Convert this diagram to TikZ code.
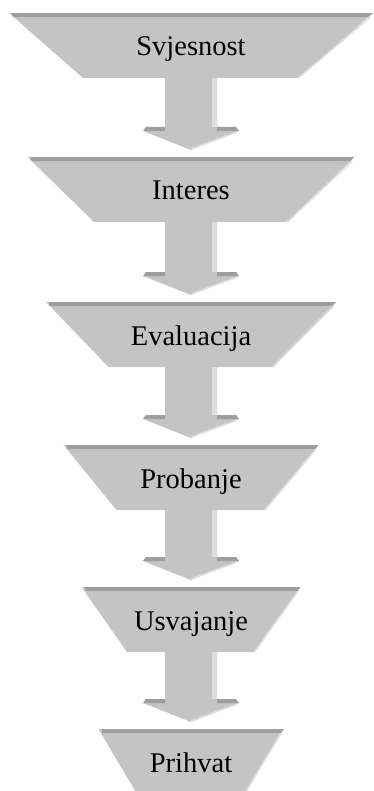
\documentclass[tikz,border=0pt]{standalone}
\usepackage{fontspec}
\setmainfont{Liberation Serif}
\usetikzlibrary{calc}
\definecolor{face}{HTML}{C4C4C4}
\definecolor{rim}{HTML}{9E9E9E}
\definecolor{shine}{HTML}{DEDEDE}
\tikzset{
  stage/.style={font=\fontsize{28.5}{30}\selectfont, anchor=base, inner sep=0pt},
  facefill/.style={fill=face},
  rimfill/.style={fill=rim},
  shinefill/.style={fill=shine},
  shineline/.style={draw=shine, line width=1.5pt},
}
\begin{document}
\begin{tikzpicture}[x=1pt,y=-1pt]
\useasboundingbox (0,0) rectangle (373,791);
% trapezoids
\foreach \i/\ty/\tw/\bw/\lbl in {1/13/364/216/Svjesnost, 2/157/327/194/Interes, 3/302/290/165/Evaluacija, 4/445/255/149/Probanje, 5/587/219/128/Usvajanje, 6/729/185/108/Prihvat}{
  \coordinate (t\i) at (191,\ty);
  \coordinate (b\i) at (191,\ty+65);
  \coordinate (tl\i) at ($(t\i)+(-\tw/2,0)$);
  \coordinate (tr\i) at ($(t\i)+(\tw/2,0)$);
  \coordinate (bl\i) at ($(b\i)+(-\bw/2,0)$);
  \coordinate (br\i) at ($(b\i)+(\bw/2,0)$);
  \fill[facefill] (tl\i) -- (tr\i) -- (br\i) -- (bl\i) -- cycle;
  \begin{scope}
    \clip (tl\i) -- (tr\i) -- (br\i) -- (bl\i) -- cycle;
    \fill[rimfill] ($(tl\i)+(3,0)$) rectangle ($(tr\i)+(0,4)$);
  \end{scope}
  \draw[shineline] ($(tr\i)+(-2.5,4)$) -- ($(br\i)+(-0.8,0)$);
  \node[stage] (n\i) at ($(t\i)+(0,43)$) {\lbl};
}
% block arrows
\foreach \i [count=\j from 2] in {1,...,5}{
  \coordinate (hb\i) at ($(t\j)+(0,-30)$);
  \coordinate (tip\i) at ($(t\j)+(0,-7)$);
  \fill[facefill] ($(b\i)+(-26,0)$) -- ($(b\i)+(26,0)$) -- ($(hb\i)+(26,0)$) -- ($(hb\i)+(45,0)$)
    -- ($(hb\i)+(48,4)$) -- (tip\i) -- ($(hb\i)+(-48,4)$) -- ($(hb\i)+(-45,0)$) -- ($(hb\i)+(-26,0)$) -- cycle;
  \fill[shinefill] ($(b\i)+(21,0)$) rectangle ($(hb\i)+(26,0)$);
  \fill[rimfill] ($(hb\i)+(-26,0)$) -- ($(hb\i)+(-45,0)$) -- ($(hb\i)+(-48,4)$) -- ($(hb\i)+(-26,4)$) -- cycle;
  \fill[rimfill] ($(hb\i)+(26,0)$) -- ($(hb\i)+(45,0)$) -- ($(hb\i)+(48,4)$) -- ($(hb\i)+(26,4)$) -- cycle;
  \draw[shineline] ($(hb\i)+(46,5)$) -- ($(tip\i)+(0,-1)$);
}
\end{tikzpicture}
\end{document}
